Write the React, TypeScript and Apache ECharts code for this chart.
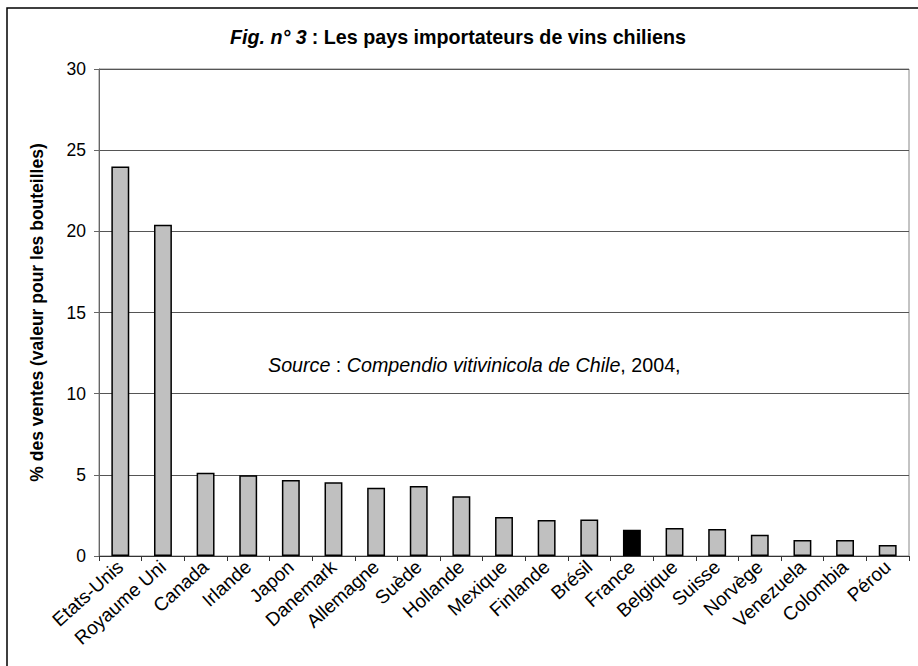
import React, { useEffect, useRef } from "react";
import * as echarts from "echarts";

const categories = [
  "Etats-Unis", "Royaume Uni", "Canada", "Irlande", "Japon", "Danemark",
  "Allemagne", "Suède", "Hollande", "Mexique", "Finlande", "Brésil",
  "France", "Belgique", "Suisse", "Norvège", "Venezuela", "Colombia", "Pérou",
];
const values = [
  24.0, 20.4, 5.13, 4.97, 4.68, 4.54, 4.21, 4.31, 3.68, 2.4, 2.22, 2.25,
  1.62, 1.72, 1.66, 1.31, 0.99, 0.99, 0.68,
];
const highlighted = "France";
const yTicks = { min: 0, max: 30, interval: 5 };

const FONT = "Arial, 'Liberation Sans', Helvetica, sans-serif";

export default function App() {
  const ref = useRef<HTMLDivElement>(null);
  useEffect(() => {
    if (!ref.current) return;
    const chart = echarts.init(ref.current, null, { renderer: "svg" });
    chart.setOption({
      animation: false,
      backgroundColor: "#ffffff",
      textStyle: { fontFamily: FONT },
      title: {
        text: "{i|Fig. n° 3} {b|: Les pays importateurs de vins chiliens}",
        left: 453,
        textAlign: "center",
        top: 22,
        textStyle: {
          rich: {
            i: { fontFamily: FONT, fontSize: 19.7, fontWeight: "bold", fontStyle: "italic", color: "#000" },
            b: { fontFamily: FONT, fontSize: 19.7, fontWeight: "bold", color: "#000" },
          },
        },
      },
      grid: {
        left: 99,
        right: 9,
        top: 69,
        bottom: 110,
        show: true,
        borderColor: "#888888",
        borderWidth: 1,
      },
      xAxis: {
        type: "category",
        data: categories,
        axisLine: { lineStyle: { color: "#333", width: 1 } },
        axisTick: { show: true, alignWithLabel: false, length: 5, lineStyle: { color: "#333" } },
        axisLabel: {
          interval: 0,
          rotate: 42,
          margin: 8,
          fontFamily: FONT,
          fontSize: 19,
          color: "#000",
        },
      },
      yAxis: {
        type: "value",
        min: yTicks.min,
        max: yTicks.max,
        interval: yTicks.interval,
        name: "% des ventes (valeur pour les bouteilles)",
        nameLocation: "middle",
        nameGap: 53,
        nameTextStyle: { fontFamily: FONT, fontSize: 17.5, fontWeight: "bold", color: "#000" },
        axisLine: { show: true, lineStyle: { color: "#666", width: 1 } },
        axisTick: { show: true, inside: false, length: 5, lineStyle: { color: "#666" } },
        axisLabel: { fontFamily: FONT, fontSize: 17.5, color: "#000", margin: 13 },
        splitLine: { show: true, lineStyle: { color: "#555", width: 1 } },
      },
      series: [
        {
          type: "bar",
          data: values.map((v, i) => ({
            value: v,
            itemStyle: { color: categories[i] === highlighted ? "#000000" : "#c0c0c0" },
          })),
          barWidth: "42%",
          itemStyle: { borderColor: "#000", borderWidth: 1.5 },
        },
      ],
      graphic: [
        {
          type: "rect",
          shape: { x: 7, y: 8, width: 960, height: 720 },
          style: { fill: "none", stroke: "#000", lineWidth: 1.5 },
          silent: true,
        },
        {
          type: "text",
          x: 268,
          y: 355,
          style: {
            text: "{i|Source} : {i|Compendio vitivinicola de Chile}, 2004,",
            fontFamily: FONT,
            fontSize: 19.7,
            fill: "#000",
            rich: {
              i: { fontFamily: FONT, fontSize: 19.7, fontStyle: "italic", fill: "#000" },
            },
          },
        },
      ],
    });
    return () => chart.dispose();
  }, []);
  return (
    <div
      ref={ref}
      style={{ position: "fixed", left: 0, top: 0, width: 918, height: 666, background: "#fff" }}
    />
  );
}
